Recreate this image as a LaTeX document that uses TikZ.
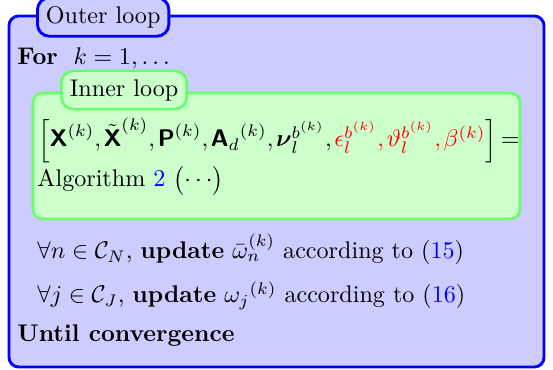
\documentclass[tikz,border=0pt]{standalone}
\usepackage{amsmath,amssymb}
\usetikzlibrary{positioning}
\newcommand{\lpsf}[1]{\text{\sffamily\bfseries #1}}

\begin{document}
\begin{tikzpicture}[
    x=0.415pt, y=-0.415pt,
    % ---- shared styles ---------------------------------------------------
    outerbox/.style={draw=blue, fill=blue!20, line width=1.2pt,
                     rounded corners=4pt},
    innerbox/.style={draw=green!60, fill=green!20, line width=1.1pt,
                     rounded corners=4pt},
    outertag/.style={draw=blue, fill=blue!20, line width=1.2pt,
                     rounded corners=5pt, inner sep=3.5pt, anchor=west},
    innertag/.style={draw=green!60, fill=green!20, line width=1.1pt,
                     rounded corners=5pt, inner sep=3.5pt, anchor=west},
    txt/.style={anchor=base west, inner sep=0pt},
    tightmath/.style={execute at begin node={%
        \thickmuskip=3mu plus 2mu\medmuskip=3mu\thinmuskip=2mu}},
  ]
\useasboundingbox (0,0) rectangle (553,370);

% =========================================================================
% OUTER -- the loop over k
% =========================================================================
\draw[outerbox] (9,16) rectangle (544,367);
\node[outertag] (outertitle) at (36,17) {Outer loop};
\node[txt] (forline) at (17,65) {\textbf{For}\hspace{6.5pt}$k=1,\ldots$};

% =========================================================================
% INNER -- one call of the inner algorithm
% =========================================================================
\draw[innerbox] (33,93) rectangle (520,219);
\node[innertag] (innertitle) at (60,90) {Inner loop};
\node[txt, tightmath] (assign) at (38,147)
  {$\left[\lpsf{X}^{(k)}, \tilde{\lpsf{X}}^{(k)}, \lpsf{P}^{(k)},
    {\lpsf{A}_d}^{(k)}, \boldsymbol{\nu}_l^{b^{(k)}},
    \textcolor{red}{\epsilon_l^{b^{(k)}}, \vartheta_l^{b^{(k)}}, \beta^{(k)}}\right] =$};
\node[txt] (callalg) at (37,187)
  {Algorithm \textcolor{blue}{2}~$\big(\!\cdots\!\big)$};

% =========================================================================
% UPDATES -- then stop test
% =========================================================================
\node[txt] (updn) at (37,259)
  {$\forall n \in \mathcal{C}_N$, \textbf{update} $\bar{\omega}_n^{(k)}$
   according to (\textcolor{blue}{15})};
\node[txt] (updj) at (37,303)
  {$\forall j \in \mathcal{C}_J$, \textbf{update} ${\omega_j}^{(k)}$
   according to (\textcolor{blue}{16})};
\node[txt] (untilline) at (17,341) {\textbf{Until convergence}};

\end{tikzpicture}
\end{document}
